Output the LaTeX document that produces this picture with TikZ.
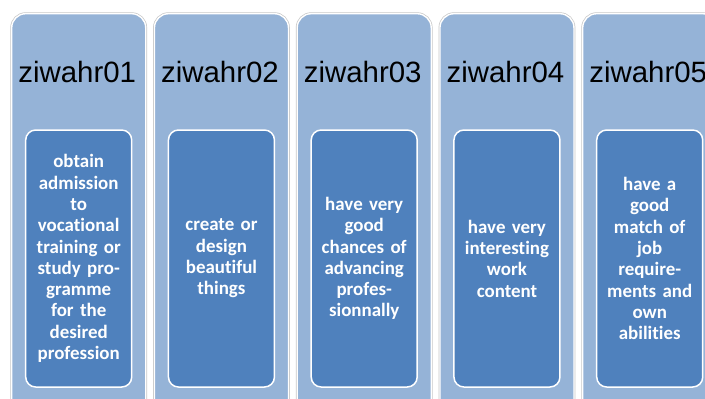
\documentclass[tikz,border=0pt]{standalone}
\usepackage{fontspec}
\setmainfont{Liberation Sans}
\newfontfamily\carlito{Carlito}[Ligatures=NoCommon]
\usepackage{tikz}
\usetikzlibrary{positioning}

\definecolor{paleblue}{HTML}{95B3D7}
\definecolor{itemblue}{HTML}{4F81BD}

\begin{document}
\begin{tikzpicture}[
    x=1bp, y=-1bp,
    node distance=7.35bp,
    column/.style={rectangle, rounded corners=14bp, fill=paleblue, draw=white, line width=1.4bp,
      preaction={draw=black!22, line width=2.8bp}, minimum width=134bp, minimum height=430bp,
      inner sep=0pt, anchor=north west},
    title/.style={font=\fontsize{29.5}{32}\selectfont, inner sep=0pt, anchor=base},
    item/.style={rectangle, rounded corners=10bp, fill=itemblue, draw=white, line width=1.5bp,
      minimum width=106bp, minimum height=257bp, text width=104bp, align=center, text=white,
      font=\carlito\bfseries\fontsize{19}{21.4}\selectfont, inner sep=0pt},
  ]
    \useasboundingbox (0,0) rectangle (705,398);
    \clip (0,0) rectangle (705,398);

    \node[column] (col1) at (11,13) {};
    \node[column, right=of col1] (col2) {};
    \node[column, right=of col2] (col3) {};
    \node[column, right=of col3] (col4) {};
    \node[column, right=of col4] (col5) {};

    \node[title] (head1) at ([xshift=-1.5bp, yshift=-69bp]col1.north) {ziwahr01};
    \node[title] (head2) at ([xshift=-1.5bp, yshift=-69bp]col2.north) {ziwahr02};
    \node[title] (head3) at ([xshift=-1.5bp, yshift=-69bp]col3.north) {ziwahr03};
    \node[title] (head4) at ([xshift=-1.5bp, yshift=-69bp]col4.north) {ziwahr04};
    \node[title] (head5) at ([xshift=-1.5bp, yshift=-69bp]col5.north) {ziwahr05};

    \node[item] (goal1) at ([yshift=-245.5bp]col1.north) {obtain\\admission\\to\\vocational\\training or\\study pro-\\gramme\\for the\\desired\\profession};
    \node[item] (goal2) at ([yshift=-245.5bp]col2.north) {create or\\design\\beautiful\\things};
    \node[item] (goal3) at ([yshift=-245.5bp]col3.north) {have very\\good\\chances of\\advancing\\profes-\\sionnally};
    \node[item] (goal4) at ([yshift=-245.5bp]col4.north) {have very\\interesting\\work\\content};
    \node[item] (goal5) at ([yshift=-245.5bp]col5.north) {have a\\good\\match of\\job\\require-\\ments and\\own\\abilities};
  \end{tikzpicture}
\end{document}
